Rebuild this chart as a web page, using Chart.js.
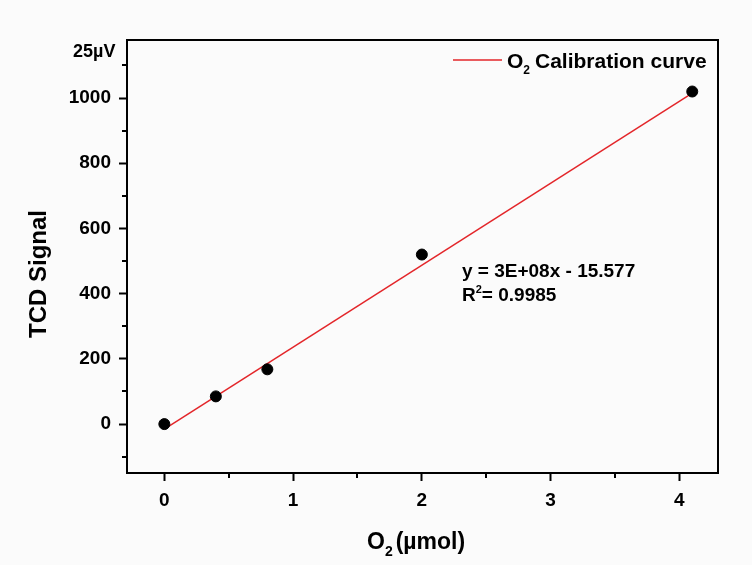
<!DOCTYPE html>
<html>
<head>
<meta charset="utf-8">
<script src="https://cdn.jsdelivr.net/npm/chart.js@4"></script>
<style>
    html, body { margin: 0; padding: 0; background: #fbfbfb; }
    #wrap { width: 752px; height: 565px; }
</style>
</head>
<body>
<div id="wrap"><canvas id="calChart" width="752" height="565"></canvas></div>
<script>
// Measured points (O2 in umol, TCD signal)
const o2Umol = [0, 0.4, 0.8, 2, 4.1];
const tcdSignal = [0, 85, 168, 520, 1020];

// Linear fit line end points
const fitX = [0, 4.1];
const fitY = [-15.577, 1015];

// Axis ticks
const xTicks = [0, 1, 2, 3, 4];
const xMinor = [0.5, 1.5, 2.5, 3.5];
const yTicks = [0, 200, 400, 600, 800, 1000];
const yMinor = [-100, 100, 300, 500, 700, 900, 1100];

const FONT = '"Liberation Sans", Arial, sans-serif';

// draw text pieces one after another, some lowered as subscript / raised as superscript
function drawParts(ctx, parts, x, y) {
    parts.forEach(p => {
        ctx.font = p.font;
        ctx.fillText(p.text, x, y + (p.dy || 0));
        x += ctx.measureText(p.text).width + (p.gap || 0);
    });
}

const extras = {
    id: 'extras',
    afterDraw(chart) {
        const ctx = chart.ctx;
        const a = chart.chartArea;
        const xs = chart.scales.x, ys = chart.scales.y;
        ctx.save();
        ctx.strokeStyle = '#000';
        ctx.lineWidth = 2;

        // full frame
        ctx.strokeRect(a.left, a.top, a.right - a.left, a.bottom - a.top);

        // minor ticks
        ctx.beginPath();
        xMinor.forEach(v => {
            const px = Math.round(xs.getPixelForValue(v));
            ctx.moveTo(px, a.bottom);
            ctx.lineTo(px, a.bottom + 5);
        });
        yMinor.forEach(v => {
            const py = Math.round(ys.getPixelForValue(v));
            ctx.moveTo(a.left, py);
            ctx.lineTo(a.left - 5, py);
        });
        ctx.stroke();

        ctx.fillStyle = '#000';
        ctx.textBaseline = 'alphabetic';
        ctx.textAlign = 'left';

        // unit label above y axis
        drawParts(ctx, [
            { text: '25\u00b5V', font: 'bold 18px ' + FONT }
        ], 73, 57);

        // legend
        ctx.strokeStyle = '#e3262a';
        ctx.lineWidth = 1.5;
        ctx.beginPath();
        ctx.moveTo(453, 60);
        ctx.lineTo(502, 60);
        ctx.stroke();
        drawParts(ctx, [
            { text: 'O', font: 'bold 21px ' + FONT },
            { text: '2', font: 'bold 12px ' + FONT, dy: 6, gap: 5 },
            { text: 'Calibration curve', font: 'bold 21px ' + FONT }
        ], 507, 68);

        // fit equation
        drawParts(ctx, [
            { text: 'y = 3E+08x - 15.577', font: 'bold 19px ' + FONT }
        ], 462, 277);
        drawParts(ctx, [
            { text: 'R', font: 'bold 19px ' + FONT },
            { text: '2', font: 'bold 11px ' + FONT, dy: -8 },
            { text: '= 0.9985', font: 'bold 19px ' + FONT }
        ], 462, 301);

        // axis titles
        drawParts(ctx, [
            { text: 'O', font: 'bold 23px ' + FONT },
            { text: '2', font: 'bold 14px ' + FONT, dy: 7, gap: 3 },
            { text: '(\u00b5mol)', font: 'bold 23px ' + FONT }
        ], 367, 549);

        ctx.translate(46, 274);
        ctx.rotate(-Math.PI / 2);
        ctx.textAlign = 'center';
        ctx.font = 'bold 24px ' + FONT;
        ctx.fillText('TCD Signal', 0, 0);
        ctx.restore();
    }
};

const calCtx = document.getElementById('calChart').getContext('2d');
new Chart(calCtx, {
    type: 'scatter',
    data: {
        datasets: [{
            label: 'Fit',
            data: fitX.map((x, i) => ({ x: x, y: fitY[i] })),
            showLine: true,
            borderColor: '#e3262a',
            borderWidth: 1.5,
            pointRadius: 0,
            order: 2
        }, {
            label: 'Data',
            data: o2Umol.map((x, i) => ({ x: x, y: tcdSignal[i] })),
            backgroundColor: '#000',
            borderColor: '#000',
            pointRadius: 5.5,
            order: 1
        }]
    },
    options: {
        responsive: false,
        animation: false,
        layout: { padding: { left: 0, top: 40, right: 34, bottom: 0 } },
        plugins: {
            legend: { display: false },
            tooltip: { enabled: false }
        },
        scales: {
            x: {
                type: 'linear',
                min: -0.29,
                max: 4.3,
                afterBuildTicks: s => { s.ticks = xTicks.map(v => ({ value: v })); },
                afterFit: s => { s.height = 92; },
                border: { display: true, color: '#000', width: 2 },
                grid: { drawOnChartArea: false, drawTicks: true, tickLength: 8, tickWidth: 2, tickColor: '#000' },
                ticks: { color: '#000', padding: 8, callback: v => String(v), font: { family: FONT, size: 19, weight: 'bold' } }
            },
            y: {
                type: 'linear',
                min: -150,
                max: 1178,
                afterBuildTicks: s => { s.ticks = yTicks.map(v => ({ value: v })); },
                afterFit: s => { s.width = 127; },
                border: { display: true, color: '#000', width: 2 },
                grid: { drawOnChartArea: false, drawTicks: true, tickLength: 8, tickWidth: 2, tickColor: '#000' },
                ticks: { color: '#000', padding: 8, callback: v => String(v), font: { family: FONT, size: 19, weight: 'bold' } }
            }
        }
    },
    plugins: [extras]
});
</script>
</body>
</html>
